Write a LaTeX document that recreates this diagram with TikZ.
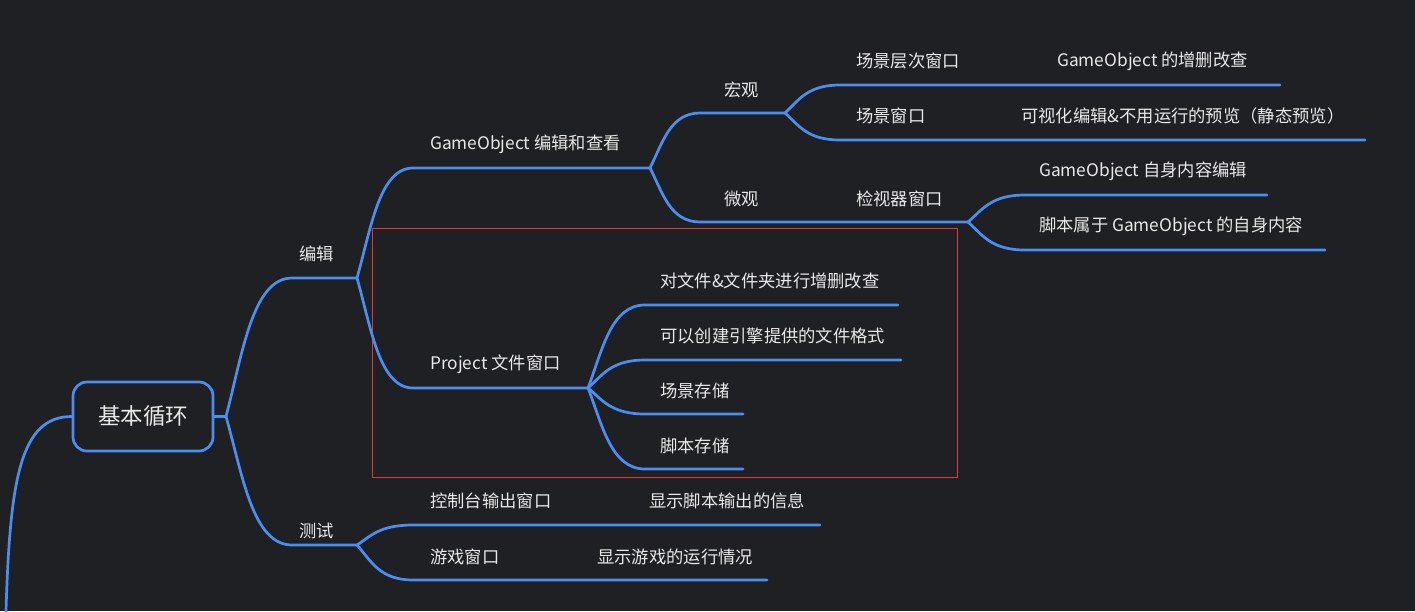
\documentclass[tikz,border=0pt]{standalone}
\usepackage{fontspec}
\setmainfont{Noto Sans CJK SC}
\usetikzlibrary{calc}
\definecolor{bg}{HTML}{1F2024}
\definecolor{ln}{HTML}{4A8EF2}
\definecolor{tx}{HTML}{E8E8E8}
\definecolor{rb}{HTML}{E03A3A}
\tikzset{
  lbl/.style={anchor=west, inner sep=0pt, text=tx, font=\fontsize{17.3}{20}\selectfont},
  br/.style={draw=ln, line width=2.7pt, line cap=round, line join=round},
  mm/.style={to path={let \p1=(\tikztostart), \p2=(\tikztotarget) in
     .. controls ({\x1+0.25*(\x2-\x1)},{\y1+0.45*(\y2-\y1)}) and ({\x1+0.4*(\x2-\x1)},\y2) .. (\tikztotarget)}},
  rootbox/.style={draw=ln, line width=2.7pt, rounded corners=14pt, minimum width=140pt, minimum height=69pt, text=tx, font=\fontsize{22.5}{26}\selectfont, inner sep=0pt},
}
\begin{document}
\begin{tikzpicture}[x=1pt,y=-1pt]
\fill[bg] (0,0) rectangle (1415,611);
\useasboundingbox (0,0) rectangle (1415,611);

% red frame
\draw[rb, line width=1pt] (372,228) rectangle (957,477);

% root
\node[rootbox] (root) at (143,416.5) {基本循环};
\coordinate (lend) at (6,611);
\coordinate (lend2) at (5,630);
\draw[br] (root.west) .. controls (20,416.5) and (10,480) .. (lend) -- (lend2);

% coordinates
\coordinate (rj) at (226,416.5);
\coordinate (e1s) at (292,278); \coordinate (e1j) at (357,278);
\coordinate (t1s) at (292,545); \coordinate (t1j) at (357,545);
\coordinate (gos) at (413,168); \coordinate (goj) at (650,168);
\coordinate (pjs) at (413,388); \coordinate (pjj) at (588,388);
\coordinate (hgs) at (700,113); \coordinate (hgj) at (785,113);
\coordinate (wgs) at (700,222); \coordinate (wgj) at (968,222);
\coordinate (c1s) at (840,85);  \coordinate (c1e) at (1280,85);
\coordinate (c2s) at (840,140); \coordinate (c2e) at (1365,140);
\coordinate (d1s) at (1025,195); \coordinate (d1e) at (1267,195);
\coordinate (d2s) at (1025,250); \coordinate (d2e) at (1325,250);
\coordinate (p1s) at (645,305); \coordinate (p1e) at (898,305);
\coordinate (p2s) at (645,360); \coordinate (p2e) at (901,360);
\coordinate (p3s) at (645,414); \coordinate (p3e) at (743,414);
\coordinate (p4s) at (645,469); \coordinate (p4e) at (743,469);
\coordinate (k1s) at (413,525); \coordinate (k1e) at (820,525);
\coordinate (k2s) at (413,580); \coordinate (k2e) at (767,580);

% branches
\draw[br] (root.east) -- (rj);
\draw[br] (rj) to[mm] (e1s) -- (e1j);
\draw[br] (rj) to[mm] (t1s) -- (t1j);
\draw[br] (e1j) to[mm] (gos) -- (goj);
\draw[br] (e1j) to[mm] (pjs) -- (pjj);
\draw[br] (goj) to[mm] (hgs) -- (hgj);
\draw[br] (goj) to[mm] (wgs) -- (wgj);
\draw[br] (hgj) to[mm] (c1s) -- (c1e);
\draw[br] (hgj) to[mm] (c2s) -- (c2e);
\draw[br] (wgj) to[mm] (d1s) -- (d1e);
\draw[br] (wgj) to[mm] (d2s) -- (d2e);
\draw[br] (pjj) to[mm] (p1s) -- (p1e);
\draw[br] (pjj) to[mm] (p2s) -- (p2e);
\draw[br] (pjj) to[mm] (p3s) -- (p3e);
\draw[br] (pjj) to[mm] (p4s) -- (p4e);
\draw[br] (t1j) to[mm] (k1s) -- (k1e);
\draw[br] (t1j) to[mm] (k2s) -- (k2e);

% labels
\node[lbl] (lbianji) at (299,254) {编辑};
\node[lbl] (lceshi) at (299,531) {测试};
\node[lbl] (lgo) at (430,144) {GameObject 编辑和查看};
\node[lbl] (lpj) at (430,364) {Project 文件窗口};
\node[lbl] (lhg) at (724,90) {宏观};
\node[lbl] (lwg) at (724,199) {微观};
\node[lbl] (ljs) at (856,199) {检视器窗口};
\node[lbl] (lc1) at (856,61) {场景层次窗口};
\node[lbl] (lc1b) at (1057,61) {GameObject 的增删改查};
\node[lbl] (lc2) at (856,116) {场景窗口};
\node[lbl] (lc2b) at (1021,116) {可视化编辑\&不用运行的预览（静态预览）};
\node[lbl] (ld1) at (1039,171) {GameObject 自身内容编辑};
\node[lbl] (ld2) at (1039,226) {脚本属于 GameObject 的自身内容};
\node[lbl] (lp1) at (660,281) {对文件\&文件夹进行增删改查};
\node[lbl] (lp2) at (660,336) {可以创建引擎提供的文件格式};
\node[lbl] (lp3) at (660,391) {场景存储};
\node[lbl] (lp4) at (660,446) {脚本存储};
\node[lbl] (lk1) at (430,501) {控制台输出窗口};
\node[lbl] (lk1b) at (649,501) {显示脚本输出的信息};
\node[lbl] (lk2) at (430,557) {游戏窗口};
\node[lbl] (lk2b) at (597,557) {显示游戏的运行情况};
\end{tikzpicture}
\end{document}
